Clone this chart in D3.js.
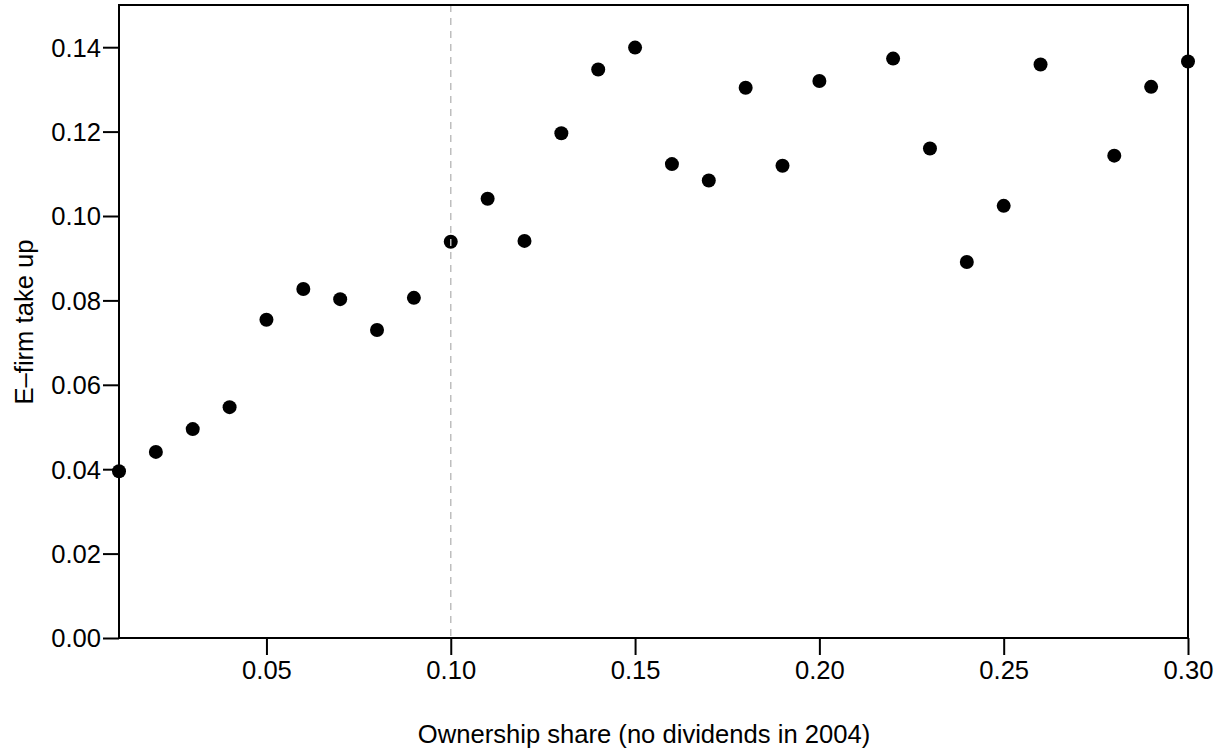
<!DOCTYPE html>
<html>
<head>
<meta charset="utf-8">
<script src="https://cdn.jsdelivr.net/npm/d3@7"></script>
<style>
  html, body { margin: 0; padding: 0; background: #fff; }
  svg { display: block; }
  text { font-family: "Liberation Sans", Arial, sans-serif; fill: #000; }
</style>
</head>
<body>
<svg id="chart" width="1223" height="754"></svg>
<script>
const shares = [0.01,0.02,0.03,0.04,0.05,0.06,0.07,0.08,0.09,0.10,0.11,0.12,0.13,0.14,0.15,0.16,0.17,0.18,0.19,0.20,0.22,0.23,0.24,0.25,0.26,0.28,0.29,0.30];
const takeUp = [0.0395,0.0441,0.0495,0.0547,0.0754,0.0827,0.0803,0.0730,0.0806,0.0939,0.1041,0.0941,0.1196,0.1347,0.1399,0.1123,0.1084,0.1304,0.1119,0.1320,0.1373,0.1160,0.0891,0.1024,0.1359,0.1143,0.1306,0.1366];
const xTicks = [0.05,0.10,0.15,0.20,0.25,0.30];
const yTicks = [0.00,0.02,0.04,0.06,0.08,0.10,0.12,0.14];
const cutoff = 0.10;
const xTitle = "Ownership share (no dividends in 2004)";
const yTitle = "E\u2013firm take up";

const L = 119, R = 1188, T = 5, B = 638;
const svg = d3.select("#chart");
const x = d3.scaleLinear().domain([0.01, 0.30]).range([L, R]);
const y = d3.scaleLinear().domain([0, 0.15]).range([B, T]);
const fs = 25.6;

// points
svg.append("g").selectAll("circle")
  .data(shares.map((s, i) => ({s, v: takeUp[i]})))
  .join("circle")
  .attr("cx", d => x(d.s)).attr("cy", d => y(d.v)).attr("r", 7)
  .attr("fill", "#000");

// dashed cutoff line
svg.append("line")
  .attr("x1", x(cutoff)).attr("x2", x(cutoff))
  .attr("y1", T).attr("y2", B)
  .attr("stroke", "#bebebe").attr("stroke-width", 1.5)
  .attr("stroke-dasharray", "7,6");

// axes
const xAxis = d3.axisBottom(x).tickValues(xTicks).tickFormat(d3.format(".2f")).tickSize(17).tickPadding(6);
const yAxis = d3.axisLeft(y).tickValues(yTicks).tickFormat(d3.format(".2f")).tickSize(16).tickPadding(2);

const gx = svg.append("g").attr("transform", `translate(0,${B})`).call(xAxis);
const gy = svg.append("g").attr("transform", `translate(${L},0)`).call(yAxis);
[gx, gy].forEach(g => {
  g.select(".domain").remove();
  g.selectAll(".tick line").attr("stroke", "#000").attr("stroke-width", 2);
  g.selectAll(".tick text").attr("font-size", fs).attr("font-family", "Liberation Sans, Arial, sans-serif").attr("fill", "#000");
});
gx.selectAll(".tick text").attr("dy", null).attr("y", 41);
gy.selectAll(".tick text").attr("dy", "0.35em");

// box
svg.append("rect")
  .attr("x", L).attr("y", T).attr("width", R - L).attr("height", B - T)
  .attr("fill", "none").attr("stroke", "#000").attr("stroke-width", 2);

// titles
svg.append("text")
  .attr("x", 644).attr("y", 743)
  .attr("text-anchor", "middle").attr("font-size", fs)
  .text(xTitle);
svg.append("text")
  .attr("transform", `translate(33,322) rotate(-90)`)
  .attr("text-anchor", "middle").attr("font-size", fs)
  .text(yTitle);
</script>
</body>
</html>
